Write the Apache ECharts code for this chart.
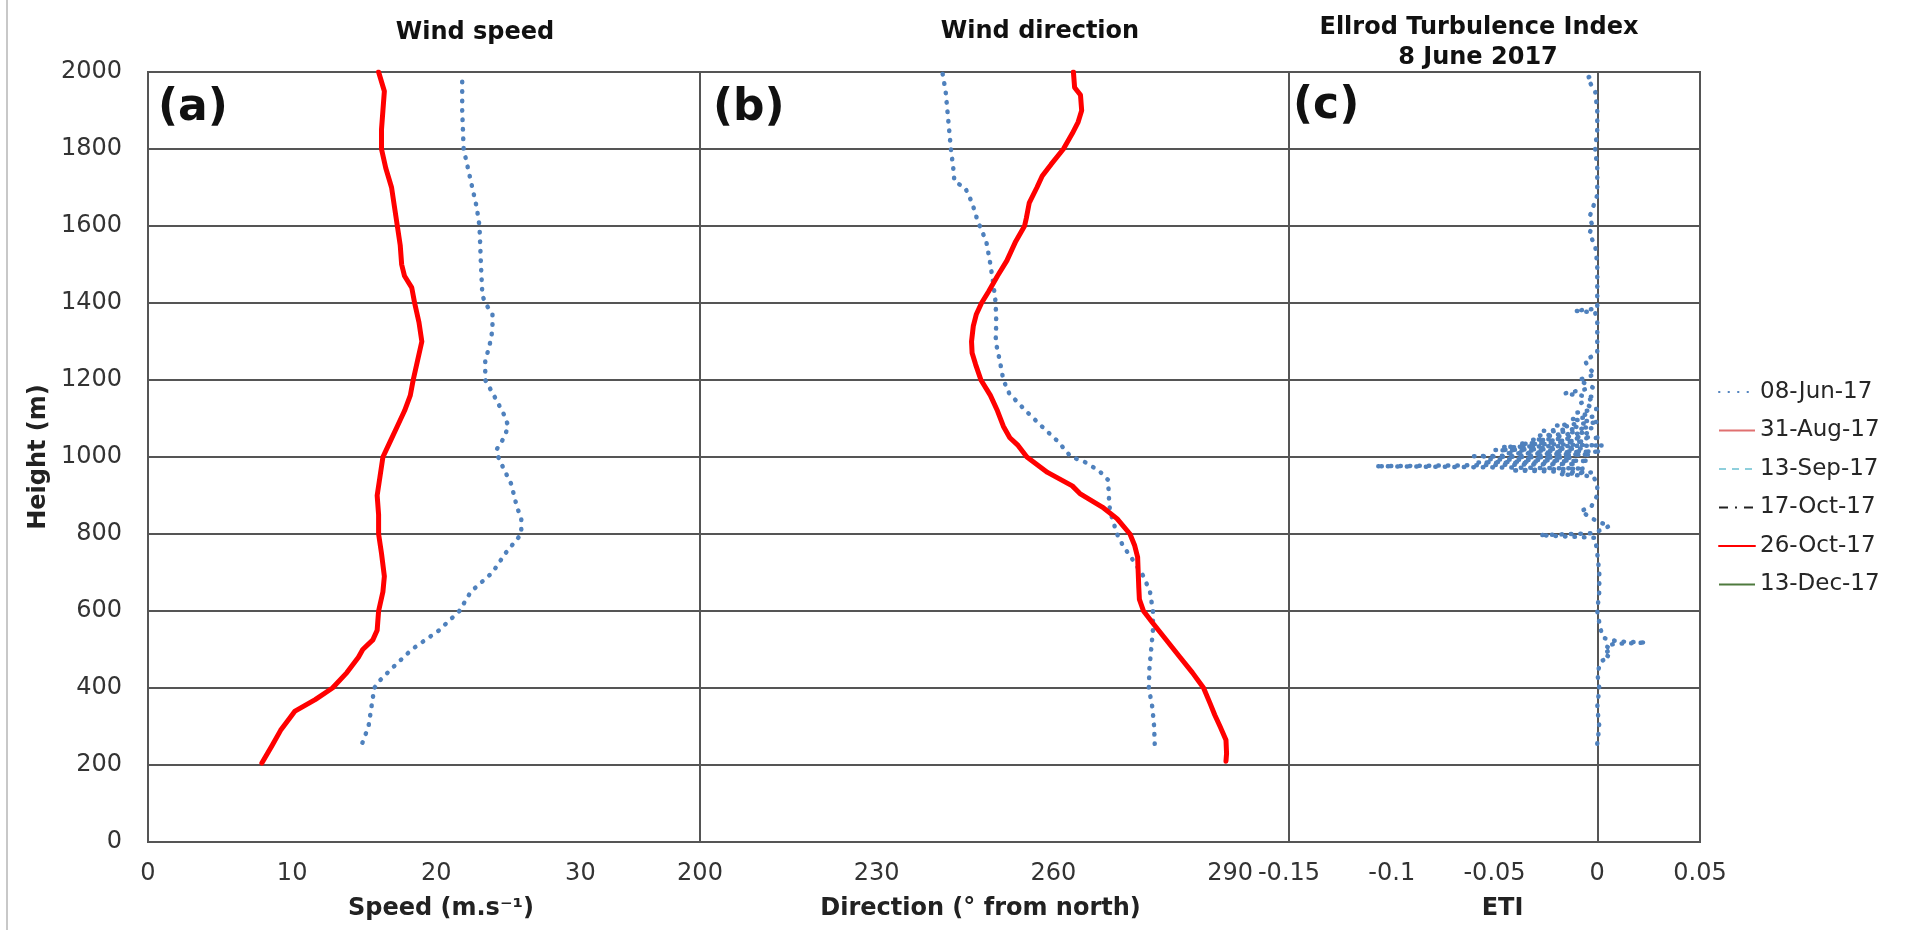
<!DOCTYPE html>
<html>
<head>
<meta charset="utf-8">
<title>Wind profiles and ETI</title>
<script src="https://cdn.jsdelivr.net/npm/echarts@6/dist/echarts.min.js"></script>
<style>
  html, body { margin: 0; padding: 0; background: #fff; }
  #main { width: 1921px; height: 930px; }
</style>
</head>
<body>
<div id="main"></div>
<script>
// ---- data ----
var legendNames = ['08-Jun-17', '31-Aug-17', '13-Sep-17', '17-Oct-17', '26-Oct-17', '13-Dec-17'];

var heightTicks = [0, 200, 400, 600, 800, 1000, 1200, 1400, 1600, 1800, 2000];
var speedTicks = [0, 10, 20, 30];
var dirTicks = [200, 230, 260, 290];
var etiTicks = [-0.15, -0.1, -0.05, 0, 0.05];

// (a) wind speed, 08-Jun-17
var junSpeedHeight = [1975, 1900, 1800, 1750, 1700, 1650, 1600, 1500, 1420, 1400,
  1370, 1330, 1290, 1250, 1200, 1160, 1110, 1080, 1050, 1020,
  1000, 960, 930, 900, 870, 840, 800, 750, 700, 650,
  600, 550, 500, 450, 420, 400, 350, 300, 250];
var junSpeed = [21.8, 21.8, 21.9, 22.2, 22.5, 22.8, 23.0, 23.1, 23.2, 23.4,
  23.9, 23.9, 23.7, 23.4, 23.4, 24.0, 24.7, 25.0, 24.7, 24.2,
  24.3, 24.8, 25.2, 25.4, 25.6, 25.9, 25.9, 24.8, 23.9, 22.4,
  21.6, 20.2, 18.3, 16.9, 16.1, 15.7, 15.5, 15.3, 14.8];

// (a) wind speed, 26-Oct-17
var octSpeedHeight = [2000, 1950, 1900, 1850, 1800, 1750, 1700, 1650, 1600, 1550,
  1500, 1470, 1440, 1400, 1350, 1300, 1250, 1200, 1160, 1120,
  1080, 1040, 1000, 950, 900, 850, 800, 750, 690, 650,
  600, 550, 525, 500, 480, 440, 400, 370, 340, 320,
  290, 250, 205];
var octSpeed = [16.0, 16.4, 16.3, 16.2, 16.2, 16.5, 16.9, 17.1, 17.3, 17.5,
  17.6, 17.8, 18.3, 18.5, 18.8, 19.0, 18.7, 18.4, 18.2, 17.8,
  17.3, 16.8, 16.3, 16.1, 15.9, 16.0, 16.0, 16.2, 16.4, 16.3,
  16.0, 15.9, 15.6, 14.9, 14.6, 13.8, 12.8, 11.6, 10.2, 9.8,
  9.2, 8.6, 7.9];

// (b) wind direction, 08-Jun-17
var junDirHeight = [1995, 1950, 1900, 1850, 1800, 1750, 1715, 1700, 1660, 1620,
  1600, 1560, 1510, 1450, 1400, 1350, 1300, 1250, 1200, 1165,
  1120, 1080, 1040, 1000, 990, 965, 940, 900, 860, 830,
  800, 770, 730, 690, 650, 600, 550, 500, 450, 400,
  350, 300, 255];
var junDir = [241.2, 241.7, 242.0, 242.3, 242.6, 243.0, 243.2, 245.0, 246.2, 247.0,
  247.5, 248.6, 249.2, 249.8, 250.2, 250.3, 250.2, 250.9, 251.5, 252.5,
  255.3, 258.0, 260.8, 263.0, 265.0, 267.7, 269.3, 269.4, 269.6, 270.2,
  270.8, 271.8, 273.6, 275.3, 276.4, 276.9, 276.9, 276.6, 276.3, 276.2,
  276.8, 277.1, 277.2];

// (b) wind direction, 26-Oct-17
var octDirHeight = [2000, 1960, 1940, 1900, 1870, 1840, 1800, 1760, 1730, 1700,
  1660, 1620, 1600, 1560, 1510, 1470, 1430, 1400, 1370, 1340,
  1300, 1270, 1240, 1200, 1160, 1120, 1080, 1050, 1030, 1000,
  960, 925, 905, 870, 840, 800, 770, 740, 700, 660,
  630, 600, 570, 530, 480, 440, 400, 360, 330, 300,
  265, 230, 210];
var octDir = [263.4, 263.6, 264.6, 264.8, 264.2, 263.2, 261.7, 259.6, 258.1, 257.2,
  255.9, 255.4, 255.1, 253.6, 252.1, 250.5, 249.0, 247.8, 246.9, 246.4,
  246.1, 246.2, 246.8, 247.7, 249.3, 250.5, 251.5, 252.6, 254.0, 255.5,
  259.0, 263.2, 264.5, 268.3, 270.8, 273.0, 273.8, 274.3, 274.4, 274.5,
  274.6, 275.3, 276.8, 278.9, 281.5, 283.6, 285.5, 286.6, 287.4, 288.3,
  289.3, 289.4, 289.3];

// (c) Ellrod turbulence index, 08-Jun-17
var etiHeight = [255, 300, 350, 400, 440, 470, 480, 490, 500, 510,
  515, 518, 521, 530, 545, 570, 600, 650, 700, 750,
  790, 797, 802, 815, 822, 830, 845, 860, 870, 900,
  930, 950, 955, 960, 965, 970, 974, 976, 978, 982,
  986, 990, 994, 998, 1002, 1006, 1010, 1014, 1018, 1022,
  1026, 1030, 1035, 1040, 1045, 1050, 1056, 1062, 1068, 1075,
  1082, 1090, 1098, 1105, 1115, 1125, 1140, 1155, 1165, 1180,
  1200, 1215, 1230, 1250, 1270, 1300, 1350, 1375, 1380, 1385,
  1450, 1500, 1550, 1580, 1600, 1620, 1650, 1680, 1750, 1800,
  1850, 1900, 1950, 1985, 1995];
var etiValue = [0.000, 0.001, 0.000, 0.001, 0.000, 0.002, 0.006, 0.003, 0.007, 0.004,
  0.009, 0.024, 0.010, 0.003, 0.002, 0.001, 0.000, 0.001, 0.001, 0.000,
  -0.001, -0.028, -0.002, 0.004, 0.006, 0.001, -0.004, -0.008, -0.003, 0.000,
  0.000, -0.002, -0.018, -0.003, -0.042, -0.006, -0.065, -0.108, -0.070, -0.010,
  -0.058, -0.004, -0.052, -0.012, -0.060, -0.003, -0.045, 0.002, -0.050, -0.008,
  -0.046, 0.003, -0.038, -0.006, -0.032, 0.002, -0.028, -0.004, -0.026, -0.002,
  -0.020, 0.001, -0.013, -0.002, -0.010, 0.000, -0.008, -0.001, -0.016, -0.002,
  -0.009, -0.001, -0.004, -0.006, 0.000, 0.000, 0.000, -0.001, -0.011, 0.000,
  0.000, 0.000, -0.001, -0.004, -0.002, -0.004, -0.002, 0.000, 0.000, -0.001,
  0.000, 0.000, -0.001, -0.005, 0.000];

// ---- chart ----
var FONT = 'DejaVu Sans';
var lineGrey = '#555';
var junColor = '#4F81BD';
var octColor = '#FF0000';

var chart = echarts.init(document.getElementById('main'));

function pairs(xs, hs) {
  return xs.map(function (x, i) { return [x, hs[i]]; });
}

function gridAt(left, width) {
  return {
    left: left, top: 72, width: width, height: 770,
    show: true, borderColor: lineGrey, borderWidth: 2, backgroundColor: 'transparent'
  };
}

function xAxisFor(i, min, max, ticks, name, shift) {
  var pad = shift >= 0 ? [0, 0, 0, 2 * shift] : [0, -2 * shift, 0, 0];
  return {
    type: 'value', gridIndex: i, min: min, max: max,
    name: name, nameLocation: 'middle', nameGap: 55,
    nameTextStyle: { fontFamily: FONT, fontSize: 24, fontWeight: 'bold', color: '#222', padding: pad },
    axisLine: { show: true, onZero: true, lineStyle: { color: lineGrey, width: 2 } },
    axisTick: { show: false },
    splitLine: { show: false },
    axisLabel: {
      customValues: ticks, margin: 20,
      fontFamily: FONT, fontSize: 24, color: '#333',
      formatter: function (v) { return String(+v.toFixed(2)); }
    }
  };
}

function yAxisFor(i, showLabels) {
  var ax = {
    type: 'value', gridIndex: i, min: 0, max: 2000,
    axisLine: { show: true, onZero: true, lineStyle: { color: lineGrey, width: 2 } },
    axisTick: { show: false, customValues: heightTicks },
    splitLine: { show: true, lineStyle: { color: lineGrey, width: 2 } },
    axisLabel: {
      show: showLabels, customValues: heightTicks, margin: 26,
      fontFamily: FONT, fontSize: 24, color: '#333',
      formatter: function (v) { return String(v); }
    }
  };
  if (showLabels) {
    ax.name = 'Height (m)';
    ax.nameLocation = 'middle';
    ax.nameGap = 97;
    ax.nameTextStyle = { fontFamily: FONT, fontSize: 24, fontWeight: 'bold', color: '#222' };
  }
  return ax;
}

function profile(name, gi, xs, hs, style) {
  return {
    name: name, type: 'line', xAxisIndex: gi, yAxisIndex: gi,
    data: pairs(xs, hs), symbol: 'none', silent: true,
    itemStyle: { color: style.color },
    lineStyle: style
  };
}

var junStyle = { color: junColor, width: 4.5, type: [0.5, 9], cap: 'round', join: 'round' };
var octStyle = { color: octColor, width: 5, cap: 'round', join: 'round' };

function legendOnly(name, style) {
  return {
    name: name, type: 'line', xAxisIndex: 0, yAxisIndex: 0, data: [],
    symbol: 'none', itemStyle: { color: style.color }, lineStyle: style
  };
}

function label(text, x, y, size, align) {
  return {
    type: 'text', x: x, y: y, silent: true,
    style: {
      text: text, fill: '#111',
      font: 'bold ' + size + 'px "' + FONT + '"',
      align: align, verticalAlign: 'middle',
      textAlign: align, textVerticalAlign: 'middle'
    }
  };
}

var option = {
  animation: false,
  backgroundColor: '#fff',
  textStyle: { fontFamily: FONT },
  grid: [gridAt(148, 552), gridAt(700, 589), gridAt(1289, 411)],
  xAxis: [
    xAxisFor(0, 0, 38.3, speedTicks, 'Speed (m.s\u207B\u00B9)', 17),
    xAxisFor(1, 200, 300, dirTicks, 'Direction (\u00B0 from north)', -14),
    xAxisFor(2, -0.15, 0.05, etiTicks, 'ETI', 8)
  ],
  yAxis: [yAxisFor(0, true), yAxisFor(1, false), yAxisFor(2, false)],
  legend: {
    data: legendNames, orient: 'vertical', left: 1713, top: 374,
    itemWidth: 36, itemHeight: 14, itemGap: 12.5, selectedMode: false,
    itemStyle: { opacity: 0 },
    textStyle: { fontFamily: FONT, fontSize: 23, color: '#262626', lineHeight: 26 }
  },
  graphic: [
    { type: 'line', silent: true, shape: { x1: 7, y1: 0, x2: 7, y2: 930 }, style: { stroke: '#c8c8c8', lineWidth: 2 } },
    label('Wind speed', 475, 33, 24, 'center'),
    label('Wind direction', 1040, 32, 24, 'center'),
    label('Ellrod Turbulence Index', 1479, 28, 24, 'center'),
    label('8 June 2017', 1478, 58, 24, 'center'),
    label('(a)', 158, 109, 44, 'left'),
    label('(b)', 713, 109, 44, 'left'),
    label('(c)', 1293, 107, 44, 'left')
  ],
  series: [
    profile('08-Jun-17', 0, junSpeed, junSpeedHeight, junStyle),
    profile('08-Jun-17', 1, junDir, junDirHeight, junStyle),
    profile('08-Jun-17', 2, etiValue, etiHeight, junStyle),
    legendOnly('31-Aug-17', { color: '#E07070', width: 2 }),
    legendOnly('13-Sep-17', { color: '#8ECFDC', width: 3, type: [7, 6] }),
    legendOnly('17-Oct-17', { color: '#222', width: 3, type: [9, 7, 2, 7] }),
    profile('26-Oct-17', 0, octSpeed, octSpeedHeight, octStyle),
    profile('26-Oct-17', 1, octDir, octDirHeight, octStyle),
    legendOnly('13-Dec-17', { color: '#4E7A3E', width: 2 })
  ]
};

chart.setOption(option);
</script>
</body>
</html>
